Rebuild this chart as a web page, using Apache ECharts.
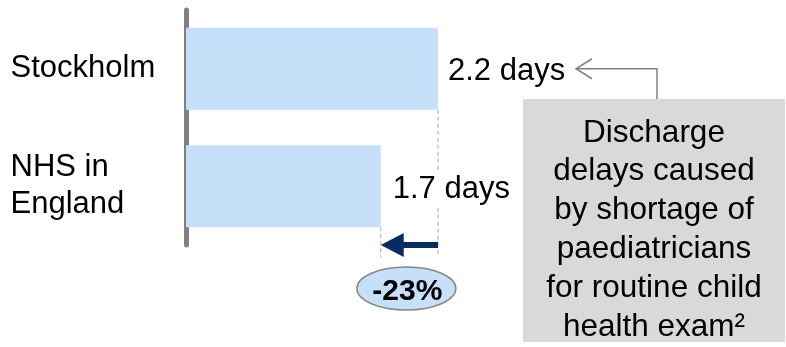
<!doctype html>
<html>
    <head>
        <meta charset="utf-8">
        <style>
            html, body { margin: 0; padding: 0; background: #fff; }
            #main { width: 786px; height: 347px; }
        </style>
    </head>
    <body>
        <div id="main"></div>
        <script src="https://cdn.jsdelivr.net/npm/echarts@6/dist/echarts.min.js"></script>
        <script>
            var categories = ['Stockholm', 'NHS in\nEngland'];
            var days = [2.2, 1.7];
            var changeText = '-23%';
            var noteText = 'Discharge\ndelays caused\nby shortage of\npaediatricians\nfor routine child\nhealth exam\u00b2';

            var FONT = '"Liberation Sans", Arial, sans-serif';
            var BAR_W = 82;

            var chart = echarts.init(document.getElementById('main'));

            chart.setOption({
                animation: false,
                grid: { left: 186, top: 10, width: 252, height: 235 },
                xAxis: { type: 'value', min: 0, max: 2.2, show: false },
                yAxis: {
                    type: 'category',
                    inverse: true,
                    data: categories,
                    offset: 2.5,
                    axisLine: { lineStyle: { color: '#808080', width: 5 } },
                    axisTick: { show: false },
                    axisLabel: {
                        align: 'left',
                        margin: 173,
                        fontSize: 31,
                        lineHeight: 37,
                        padding: [6, 0, 0, 0],
                        color: '#000',
                        fontFamily: FONT
                    }
                },
                series: [{
                    type: 'bar',
                    barWidth: BAR_W,
                    itemStyle: { color: '#c6e0f9' },
                    label: {
                        show: true,
                        position: 'right',
                        distance: 10,
                        offset: [0, 3],
                        fontSize: 31,
                        color: '#000',
                        fontFamily: FONT,
                        formatter: '{c} days'
                    },
                    data: days.map(function (v, i) {
                        if (i === 1) {
                            return { value: v, label: { distance: 12, backgroundColor: '#fff', padding: [1, 0] } };
                        }
                        return v;
                    })
                }]
            });

            // annotation overlay, positioned from the axes
            var x0 = chart.convertToPixel({ xAxisIndex: 0 }, days[0]);
            var x1 = chart.convertToPixel({ xAxisIndex: 0 }, days[1]);
            var y0 = chart.convertToPixel({ yAxisIndex: 0 }, categories[0]);
            var y1 = chart.convertToPixel({ yAxisIndex: 0 }, categories[1]);
            var dashBottom = 257;
            var arrowY = 245;
            var midX = (x0 + x1) / 2;
            var dash = { stroke: '#a6a6a6', lineWidth: 1, lineDash: [4, 3] };

            chart.setOption({
                graphic: [
                    { type: 'line', z: 1, shape: { x1: x0, y1: y0 + BAR_W / 2, x2: x0, y2: dashBottom }, style: dash },
                    { type: 'line', z: 1, shape: { x1: x1, y1: y1 + BAR_W / 2, x2: x1, y2: dashBottom }, style: dash },
                    {
                        type: 'polygon',
                        z: 5,
                        shape: {
                            points: [
                                [x1, arrowY], [x1 + 23, arrowY - 12], [x1 + 23, arrowY - 3],
                                [x0, arrowY - 3], [x0, arrowY + 3], [x1 + 23, arrowY + 3], [x1 + 23, arrowY + 12]
                            ]
                        },
                        style: { fill: '#062d63' }
                    },
                    {
                        type: 'ellipse',
                        z: 5,
                        shape: { cx: midX - 3, cy: 288.5, rx: 49.5, ry: 21.5 },
                        style: { fill: '#c6e0f9', stroke: '#888888', lineWidth: 1.5 }
                    },
                    {
                        type: 'text',
                        z: 6,
                        x: midX - 2, y: 292,
                        style: {
                            text: changeText, fill: '#000', font: 'bold 30px ' + FONT,
                            textAlign: 'center', textVerticalAlign: 'middle'
                        }
                    },
                    {
                        type: 'rect',
                        z: 5,
                        shape: { x: 523, y: 99, width: 262, height: 243 },
                        style: { fill: '#d9d9d9' }
                    },
                    {
                        type: 'text',
                        z: 6,
                        x: 654, y: 230,
                        style: {
                            text: noteText, fill: '#000', font: '31.5px ' + FONT,
                            lineHeight: 38.8, textAlign: 'center', textVerticalAlign: 'middle'
                        }
                    },
                    {
                        type: 'polyline',
                        z: 5,
                        shape: { points: [[657, 99], [657, y0], [576, y0]] },
                        style: { stroke: '#808080', lineWidth: 1.5, fill: null }
                    },
                    {
                        type: 'polyline',
                        z: 5,
                        shape: { points: [[592, y0 - 10], [576, y0], [592, y0 + 10]] },
                        style: { stroke: '#808080', lineWidth: 1.5, fill: null }
                    }
                ]
            });

            window.onresize = chart.resize;
        </script>
    </body>
</html>
